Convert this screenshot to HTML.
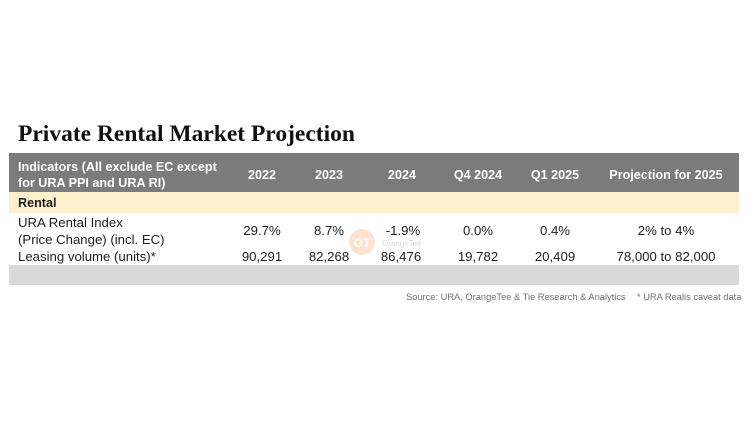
<!DOCTYPE html>
<html>
<head>
<meta charset="utf-8">
<style>
  html,body{margin:0;padding:0;background:#ffffff;}
  svg{display:block;}
  .t{font-family:"Liberation Sans",Arial,sans-serif;}
</style>
</head>
<body>
<svg width="750" height="430" viewBox="0 0 750 430" xmlns="http://www.w3.org/2000/svg">
  <rect x="0" y="0" width="750" height="430" fill="#ffffff"/>
  <!-- Title -->
  <text x="18" y="141" font-family="'Liberation Serif',serif" font-weight="bold" font-size="23.5" fill="#111111">Private Rental Market Projection</text>

  <!-- Bands -->
  <rect x="9" y="153" width="730" height="39" fill="#7b7b7b"/>
  <rect x="9" y="192" width="730" height="21" fill="#fef0cc"/>
  <rect x="9" y="265" width="730" height="20" fill="#d9d9d9"/>

  <!-- Watermark -->
  <circle cx="362" cy="242" r="13" fill="#fbdcc6" opacity="0.8"/>
  <text x="362" y="247" class="t" font-size="12" font-weight="bold" fill="#ffffff" text-anchor="middle" opacity="0.9">OT</text>
  <text x="382" y="246" class="t" font-size="8" fill="#dadada">OrangeTee</text>

  <!-- Header text -->
  <g class="t" font-weight="bold" font-size="12.6" fill="#ffffff">
    <text x="18" y="171">Indicators (All exclude EC except</text>
    <text x="18" y="187">for URA PPI and URA RI)</text>
    <g text-anchor="middle">
      <text x="262" y="179">2022</text>
      <text x="329" y="179">2023</text>
      <text x="402" y="179">2024</text>
      <text x="478" y="179">Q4 2024</text>
      <text x="555" y="179">Q1 2025</text>
      <text x="666" y="179">Projection for 2025</text>
    </g>
  </g>

  <!-- Rental -->
  <text x="18" y="207" class="t" font-weight="bold" font-size="12.6" fill="#1e1e1e">Rental</text>

  <!-- Rows -->
  <g class="t" font-size="13.2" fill="#1e1e1e">
    <text x="18" y="227">URA Rental Index</text>
    <text x="18" y="244">(Price Change) (incl. EC)</text>
    <text x="18" y="261">Leasing volume (units)*</text>
    <g text-anchor="middle">
      <text x="262" y="235">29.7%</text>
      <text x="329" y="235">8.7%</text>
      <text x="403" y="235">-1.9%</text>
      <text x="478" y="235">0.0%</text>
      <text x="555" y="235">0.4%</text>
      <text x="666" y="235">2% to 4%</text>
      <text x="262" y="261">90,291</text>
      <text x="329" y="261">82,268</text>
      <text x="401" y="261">86,476</text>
      <text x="478" y="261">19,782</text>
      <text x="555" y="261">20,409</text>
      <text x="666" y="261">78,000 to 82,000</text>
    </g>
  </g>

  <!-- Footer -->
  <g class="t" font-size="9.3" fill="#707070">
    <text x="406" y="300">Source: URA, OrangeTee &amp; Tie Research &amp; Analytics</text>
    <text x="637" y="300">* URA Realis caveat data</text>
  </g>
</svg>
</body>
</html>
